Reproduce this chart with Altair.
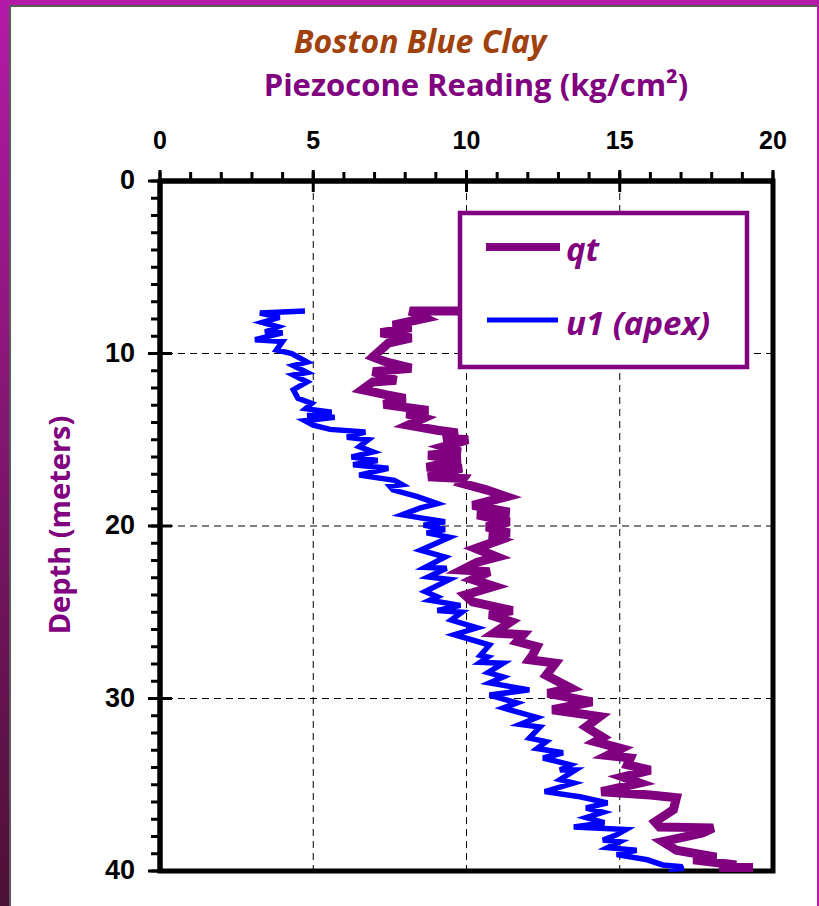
import altair as alt
import pandas as pd

# Cone resistance qt (kg/cm2) and the depth (m) of each reading
qt_reading = [10.8, 8.15, 8.65, 7.6, 8.2, 7.2, 8.2, 7.45, 6.95, 7.4, 8.2, 6.95, 7.7, 6.95,
              6.6, 7.4, 8.0, 7.3, 8.75, 8.05, 8.6, 8.1, 9.05, 9.7, 9.25, 10.05, 9.25, 9.8,
              8.75, 9.8, 8.7, 9.85, 8.75, 9.9, 9.8, 10.65, 11.3, 10.2, 11.4, 10.35, 11.4,
              10.65, 11.4, 10.75, 11.1, 10.3, 11.0, 10.35, 9.85, 10.75, 10.2, 10.9, 9.95,
              10.2, 11.5, 10.75, 11.45, 10.9, 11.85, 11.65, 12.3, 12.15, 12.05, 12.9, 12.6,
              13.4, 12.65, 14.1, 12.8, 14.35, 13.9, 14.45, 14.2, 15.05, 14.6, 15.35, 15.25,
              16.0, 15.1, 15.65, 14.4, 16.0, 16.85, 16.75, 16.15, 16.3, 18.05, 17.7, 16.4,
              16.85, 18.15, 17.4, 18.8, 18.25, 19.35]
qt_depth = [7.54, 7.54, 7.95, 8.35, 8.5, 8.8, 9.1, 9.4, 10.2, 10.5, 10.85, 11.05, 11.55, 11.65,
            12.1, 12.4, 12.6, 12.95, 13.3, 13.5, 13.75, 14.15, 14.45, 14.6, 14.9, 15.0, 15.4, 15.7,
            15.9, 16.15, 16.6, 16.65, 17.15, 17.25, 17.5, 17.9, 18.3, 18.8, 19.2, 19.35, 19.75,
            20.05, 20.4, 20.6, 20.8, 21.3, 21.8, 22.1, 22.55, 22.65, 23.1, 23.5, 24.0,
            24.4, 24.9, 25.15, 25.55, 26.2, 26.3, 26.7, 27.0, 27.5, 27.75, 27.95, 28.65,
            29.4, 29.7, 30.2, 30.65, 31.05, 31.65, 32.25, 32.5, 32.9, 33.3, 33.45, 33.85,
            34.15, 34.55, 34.9, 35.4, 35.6, 35.75, 36.45, 37.15, 37.45, 37.5, 37.8, 38.3,
            38.8, 39.2, 39.35, 39.65, 39.8, 39.8]

# Pore pressure at the cone apex u1 (kg/cm2) and its depth (m)
u1_reading = [4.73, 3.26, 3.9, 3.33, 3.85, 3.43, 4.0, 3.1, 4.0, 3.8, 4.3, 4.8, 4.35, 4.8, 4.35,
              4.8, 4.35, 4.5, 4.95, 4.75, 5.6, 4.8, 5.7, 4.73, 5.0, 5.55, 6.7, 6.1, 6.8, 6.5,
              6.95, 6.25, 7.1, 6.3, 7.45, 6.5, 7.65, 7.9, 7.5, 7.6, 8.4, 9.05, 8.5, 7.9, 8.4,
              9.3, 8.6, 9.3, 8.7, 9.45, 8.5, 9.3, 8.65, 9.35, 8.75, 9.45, 8.65, 9.05, 8.8, 9.8,
              9.05, 9.85, 9.5, 10.35, 9.6, 10.75, 10.45, 10.7, 10.45, 11.2, 10.7, 11.2, 10.75,
              12.05, 10.75, 11.65, 11.2, 12.3, 11.75, 12.4, 12.05, 12.6, 12.3, 13.15, 12.5,
              13.4, 13.05, 13.55, 13.05, 13.5, 12.55, 13.7, 14.6, 13.9, 14.45, 13.9, 14.5,
              13.5, 15.2, 14.9, 14.45, 15.0, 14.6, 15.55, 14.9, 15.9, 16.4, 17.05, 16.6, 17.1]
u1_depth = [7.54, 7.65, 7.9, 8.2, 8.45, 8.75, 8.8, 9.2, 9.3, 9.8, 10.0, 10.5, 10.7, 11.1, 11.25,
            11.65, 12.1, 12.6, 12.9, 13.2, 13.4, 13.6, 13.7, 13.9, 14.15, 14.4, 14.55, 14.85, 15.0,
            15.4, 15.7, 16.0, 16.2, 16.45, 16.65, 17.05, 17.35, 17.6, 17.7, 17.9, 18.3, 18.7,
            18.95, 19.35, 19.5, 19.75, 19.95, 20.2, 20.4, 20.65, 21.4, 21.8, 22.4, 22.45, 22.95,
            23.1, 23.8, 24.1, 24.3, 24.6, 24.9, 25.0, 25.45, 25.9, 26.3, 26.9, 27.5, 27.6, 27.9,
            27.95, 28.5, 28.75, 29.1, 29.5, 29.8, 30.25, 30.55, 31.1, 31.5, 31.65, 32.3, 32.5,
            32.9, 33.15, 33.45, 33.85, 34.15, 34.15, 34.7, 34.9, 35.4, 35.7, 36.05, 36.35,
            36.6, 36.9, 37.2, 37.45, 37.6, 37.9, 38.2, 38.3, 38.65, 38.8, 39.05, 39.35, 39.65,
            39.75, 39.9, 39.85]

# tick positions and tick labels of the two scales
x_minor = list(range(0, 21))
y_minor = list(range(0, 41))
x_major = [0, 5, 10, 15, 20]
y_major = [0, 10, 20, 30, 40]
x_labels = ["0", "5", "10", "15", "20"]
y_labels = ["0", "10", "20", "30", "40"]
x_grid = [5, 10, 15]
y_grid = [10, 20, 30]
series_names = ["qt", "u1 (apex)"]
x_title = "Piezocone Reading (kg/cm²)"
y_title = "Depth (meters)"
chart_title = "Boston Blue Clay"

PURPLE = "#800080"
BLUE = "#0000FF"
BROWN = "#A0400A"
FRAME_TOP = "#B41AA8"
FRAME_BOTTOM = "#4C1034"
NUM_FONT = "Liberation Sans"
TEXT_FONT = "Open Sans"
W, H = 613, 690
PAD = {"left": 160, "top": 181, "right": 46, "bottom": 35}

qt_df = pd.DataFrame({"reading": qt_reading, "depth": qt_depth, "i": range(len(qt_reading))})
u1_df = pd.DataFrame({"reading": u1_reading, "depth": u1_depth, "i": range(len(u1_reading))})
one = pd.DataFrame({"k": [0]})

xs = alt.Scale(domain=[0, 20], nice=False, zero=False)
ys = alt.Scale(domain=[0, 40], nice=False, zero=False, reverse=True)


def xq(field):
    return alt.X(field, type="quantitative", scale=xs, axis=None)


def yq(field):
    return alt.Y(field, type="quantitative", scale=ys, axis=None)


# page frame: gradient strip on the left, band along the top, thin edge on the right
frame_left = alt.Chart(one).mark_rect(
    color=alt.Gradient(gradient="linear", x1=0, x2=0, y1=0, y2=1,
                       stops=[alt.GradientStop(color=FRAME_TOP, offset=0),
                              alt.GradientStop(color=FRAME_BOTTOM, offset=1)])
).encode(x=alt.value(-160), x2=alt.value(-151), y=alt.value(-181), y2=alt.value(725))
frame_left_edge = alt.Chart(one).mark_rect(color="#5a5a5a").encode(
    x=alt.value(-151), x2=alt.value(-149), y=alt.value(-175), y2=alt.value(725))
frame_top = alt.Chart(one).mark_rect(color=FRAME_TOP).encode(
    x=alt.value(-160), x2=alt.value(659), y=alt.value(-181), y2=alt.value(-176))
frame_top_edge = alt.Chart(one).mark_rect(color="#5a5a5a").encode(
    x=alt.value(-151), x2=alt.value(659), y=alt.value(-176), y2=alt.value(-174))
frame_right = alt.Chart(one).mark_rect(color=FRAME_TOP).encode(
    x=alt.value(657), x2=alt.value(659), y=alt.value(-181), y2=alt.value(725))

# dashed grid
grid_v = alt.Chart(pd.DataFrame({"v": x_grid})).mark_rule(
    color="black", strokeWidth=1, strokeDash=[7, 5]
).encode(x=xq("v"))
grid_h = alt.Chart(pd.DataFrame({"v": y_grid})).mark_rule(
    color="black", strokeWidth=1, strokeDash=[7, 5]
).encode(y=yq("v"))

# the two piezocone profiles
u1_line = alt.Chart(u1_df).mark_line(color=BLUE, strokeWidth=5.5, strokeJoin="miter").encode(
    x=xq("reading"), y=yq("depth"), order="i:Q")
qt_line = alt.Chart(qt_df).mark_line(color=PURPLE, strokeWidth=9, strokeJoin="miter").encode(
    x=xq("reading"), y=yq("depth"), order="i:Q")

# top axis: heavy line, minor ticks every 1, major ticks crossing the line, labels
x_domain = alt.Chart(pd.DataFrame({"a": [0], "b": [20]})).mark_rule(
    color="black", strokeWidth=5).encode(x=xq("a"), x2="b:Q", y=alt.value(0))
x_minor_ticks = alt.Chart(pd.DataFrame({"v": x_minor})).mark_rule(
    color="black", strokeWidth=3).encode(x=xq("v"), y=alt.value(-9), y2=alt.value(0))
x_major_ticks = alt.Chart(pd.DataFrame({"v": x_major})).mark_rule(
    color="black", strokeWidth=3).encode(x=xq("v"), y=alt.value(-11), y2=alt.value(11))
x_tick_labels = alt.Chart(pd.DataFrame({"v": x_major, "t": x_labels})).mark_text(
    font=NUM_FONT, fontSize=25, fontWeight="bold", color="black",
    align="center", baseline="alphabetic"
).encode(x=xq("v"), y=alt.value(-32), text="t:N")

# left axis
y_domain = alt.Chart(pd.DataFrame({"a": [0], "b": [40]})).mark_rule(
    color="black", strokeWidth=5).encode(y=yq("a"), y2="b:Q", x=alt.value(0))
y_minor_ticks = alt.Chart(pd.DataFrame({"v": y_minor})).mark_rule(
    color="black", strokeWidth=3).encode(y=yq("v"), x=alt.value(-9), x2=alt.value(0))
y_major_ticks = alt.Chart(pd.DataFrame({"v": y_major})).mark_rule(
    color="black", strokeWidth=3).encode(y=yq("v"), x=alt.value(-12), x2=alt.value(12))
y_tick_labels = alt.Chart(pd.DataFrame({"v": y_major, "t": y_labels})).mark_text(
    font=NUM_FONT, fontSize=27, fontWeight="bold", color="black",
    align="right", baseline="middle"
).encode(y=yq("v"), x=alt.value(-25), text="t:N")

# axis titles and chart title
x_title_text = alt.Chart(one).mark_text(
    text=x_title, font=TEXT_FONT, fontSize=31, fontWeight="bold", color=PURPLE,
    align="center", baseline="alphabetic"
).encode(x=alt.value(316), y=alt.value(-85))
y_title_text = alt.Chart(one).mark_text(
    text=y_title, font=TEXT_FONT, fontSize=29, fontWeight="bold", color=PURPLE,
    align="center", baseline="middle", angle=270
).encode(x=alt.value(-99), y=alt.value(344))
title = alt.Chart(one).mark_text(
    text=chart_title, font=TEXT_FONT, fontSize=32, fontWeight="bold",
    fontStyle="italic", color=BROWN, align="center", baseline="alphabetic"
).encode(x=alt.value(260), y=alt.value(-128))

# legend box
legend_box = alt.Chart(one).mark_rect(fill="white", stroke=PURPLE, strokeWidth=4.5).encode(
    x=alt.value(300), x2=alt.value(587), y=alt.value(32), y2=alt.value(186))
legend_qt = alt.Chart(one).mark_rule(color=PURPLE, strokeWidth=8).encode(
    x=alt.value(326), x2=alt.value(400), y=alt.value(66))
legend_u1 = alt.Chart(one).mark_rule(color=BLUE, strokeWidth=5).encode(
    x=alt.value(327), x2=alt.value(398), y=alt.value(139))
label_style = dict(font=TEXT_FONT, fontSize=33, fontWeight="bold", fontStyle="italic",
                   color=PURPLE, align="left", baseline="alphabetic")
legend_qt_text = alt.Chart(one).mark_text(text=series_names[0], **label_style).encode(
    x=alt.value(406), y=alt.value(80))
legend_u1_text = alt.Chart(one).mark_text(text=series_names[1], **label_style).encode(
    x=alt.value(406), y=alt.value(154))

chart = alt.layer(
    frame_left, frame_left_edge, frame_top, frame_top_edge, frame_right,
    grid_v, grid_h, u1_line, qt_line,
    x_domain, x_minor_ticks, x_major_ticks, x_tick_labels,
    y_domain, y_minor_ticks, y_major_ticks, y_tick_labels,
    x_title_text, y_title_text, title,
    legend_box, legend_qt, legend_u1, legend_qt_text, legend_u1_text,
).properties(
    width=W, height=H, autosize=alt.AutoSizeParams(type="none"), padding=PAD,
    background="white",
).configure_view(stroke="black", strokeWidth=5)

chart.save("out.html", embed_options={"renderer": "svg", "actions": False})
